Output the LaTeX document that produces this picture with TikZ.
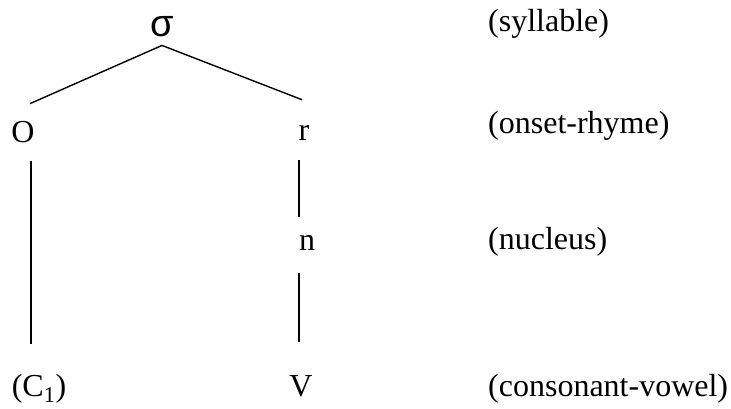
\documentclass[tikz,border=0pt]{standalone}
\usepackage{fontspec}
\setmainfont{Liberation Serif}
\newfontfamily\sigfont{Liberation Sans}

\begin{document}
\begin{tikzpicture}[x=1pt, y=-1pt,
  sym/.style={inner sep=0pt, anchor=base, font=\fontsize{32}{38}\selectfont},
  lvl/.style={inner sep=0pt, anchor=base west, font=\fontsize{32}{38}\selectfont},
  lnk/.style={line width=1.4pt},
]
\useasboundingbox (0,0) rectangle (731,408);
% tree
\node[inner sep=0pt, font=\sigfont\fontsize{38}{44}\selectfont] (sig) at (162,27) {σ};
\node[sym] (o) at (23,142) {O};
\node[sym] (r) at (304,140) {r};
\node[sym] (n) at (307,250) {n};
\node[sym] (c1) at (39,396) {(C\textsubscript{1})};
\node[sym] (v) at (301,396) {V};
\draw[lnk] ([yshift=-8pt]sig.south) -- ([shift={(7pt,17pt)}]o.north);
\draw[lnk] ([yshift=-8pt]sig.south) -- ([shift={(-2pt,25pt)}]r.north);
\draw[lnk] ([shift={(8pt,-18pt)}]o.south) -- ([shift={(-8pt,30pt)}]c1.north);
\draw[lnk] ([shift={(-5pt,-20pt)}]r.south) -- ([shift={(-8pt,18pt)}]n.north);
\draw[lnk] ([shift={(-8pt,-23pt)}]n.south) -- ([shift={(-2pt,33pt)}]v.north);
% levels
\node[lvl] (l1) at (488,31) {(syllable)};
\node[lvl] (l2) at (488,133) {(onset-rhyme)};
\node[lvl] (l3) at (488,249) {(nucleus)};
\node[lvl] (l4) at (488,396) {(consonant-vowel)};
\end{tikzpicture}
\end{document}
